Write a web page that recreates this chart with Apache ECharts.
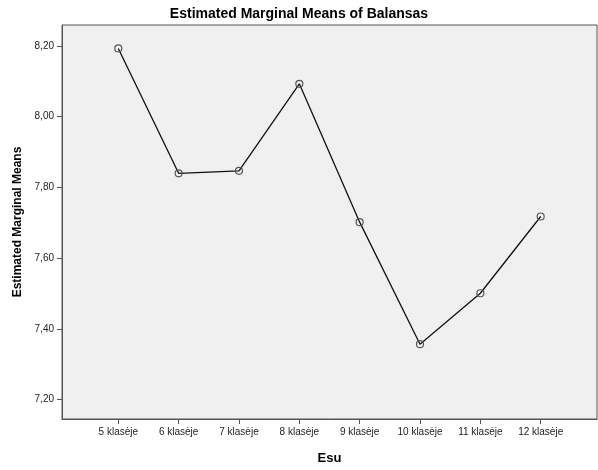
<!DOCTYPE html>
<html>
<head>
<meta charset="utf-8">
<script src="https://cdn.jsdelivr.net/npm/echarts@6/dist/echarts.min.js"></script>
<style>
html,body{margin:0;padding:0;background:#fff;}
#chart{width:598px;height:470px;}
</style>
</head>
<body>
<div id="chart"></div>
<script>
var categories = ['5 klasėje','6 klasėje','7 klasėje','8 klasėje','9 klasėje','10 klasėje','11 klasėje','12 klasėje'];
var means = [8.193, 7.840, 7.847, 8.093, 7.702, 7.357, 7.501, 7.718];
var yTicks = [7.2, 7.4, 7.6, 7.8, 8.0, 8.2];
var xTicks = [0, 1, 2, 3, 4, 5, 6, 7];

var chart = echarts.init(document.getElementById('chart'), null, {renderer: 'canvas'});
var font = 'Liberation Sans, Arial, sans-serif';
chart.setOption({
  animation: false,
  backgroundColor: '#ffffff',
  title: {
    text: 'Estimated Marginal Means of Balansas',
    left: 'center', top: 2,
    textStyle: {fontFamily: font, fontSize: 14, fontWeight: 'bold', color: '#000'}
  },
  grid: {
    left: 62, right: 1, top: 25, bottom: 51,
    show: true, backgroundColor: '#f0f0f0', borderColor: '#555', borderWidth: 1
  },
  xAxis: {
    type: 'value', min: -0.933, max: 7.933,
    name: 'Esu', nameLocation: 'middle', nameGap: 33,
    nameTextStyle: {fontFamily: font, fontSize: 13, fontWeight: 'bold', color: '#000'},
    axisLine: {show: true, onZero: false, lineStyle: {color: '#555'}},
    axisTick: {show: true, inside: false, length: 5, customValues: xTicks, lineStyle: {color: '#555'}},
    axisLabel: {
      customValues: xTicks, margin: 8,
      fontFamily: font, fontSize: 10, color: '#222',
      formatter: function (v) { return categories[Math.round(v)]; }
    },
    splitLine: {show: false}
  },
  yAxis: {
    type: 'value', min: 7.1455, max: 8.2593,
    name: 'Estimated Marginal Means', nameLocation: 'middle', nameGap: 38,
    nameTextStyle: {fontFamily: font, fontSize: 12, fontWeight: 'bold', color: '#000'},
    axisLine: {show: true, onZero: false, lineStyle: {color: '#555'}},
    axisTick: {show: true, inside: false, length: 5, customValues: yTicks, lineStyle: {color: '#555'}},
    axisLabel: {
      customValues: yTicks, margin: 8,
      fontFamily: font, fontSize: 10, color: '#222',
      formatter: function (v) { return v.toFixed(2).replace('.', ','); }
    },
    splitLine: {show: false}
  },
  series: [{
    type: 'line',
    data: means.map(function (v, i) { return [i, v]; }),
    symbol: 'circle', symbolSize: 7, showAllSymbol: true,
    lineStyle: {color: '#111', width: 1.3},
    itemStyle: {color: 'rgba(0,0,0,0)', borderColor: '#555', borderWidth: 1.2},
    z: 3
  }]
});
</script>
</body>
</html>
